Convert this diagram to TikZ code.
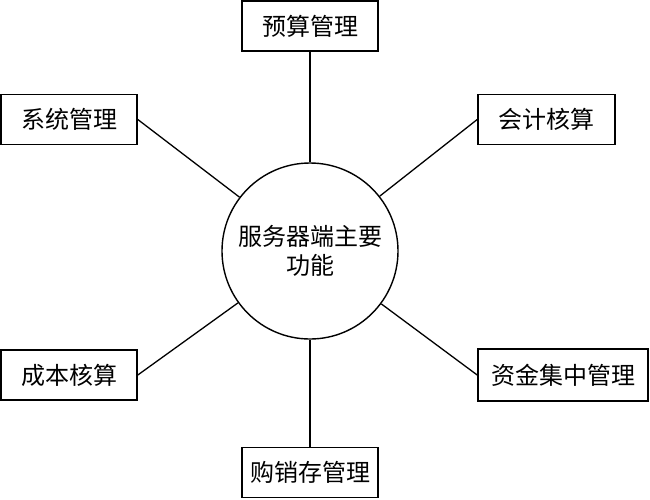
\documentclass[tikz,border=0pt]{standalone}
\usepackage{fontspec}
\newfontfamily\cjk{Noto Sans CJK SC}
\begin{document}
\begin{tikzpicture}[x=1pt,y=-1pt,
  box/.style={draw, line width=1.6pt, minimum width=136pt, minimum height=50pt, inner sep=0pt, font=\cjk\fontsize{24}{29}\selectfont},
  hub/.style={draw, line width=1.4pt, circle, minimum size=176pt, inner sep=0pt, align=center, font=\cjk\fontsize{24}{29}\selectfont},
  link/.style={line width=1.3pt}]
\useasboundingbox (0,0) rectangle (650,499);
\node[hub] (c) at (310,251) {服务器端主要\\功能};
\node[box] (ys) at (310,26) {预算管理};
\node[box] (xt) at (69,119.5) {系统管理};
\node[box, minimum width=137pt] (kj) at (546.5,119.5) {会计核算};
\node[box] (cb) at (69,375) {成本核算};
\node[box, minimum width=170pt, minimum height=52pt] (zj) at (563,375) {资金集中管理};
\node[box] (gx) at (310,472.5) {购销存管理};
\draw[link] (ys) -- (c);
\draw[link] (gx) -- (c);
\draw[link] (xt.east) -- (c);
\draw[link] (kj.west) -- (c);
\draw[link] (cb.east) -- (c);
\draw[link] (zj.west) -- (c);
\end{tikzpicture}
\end{document}
